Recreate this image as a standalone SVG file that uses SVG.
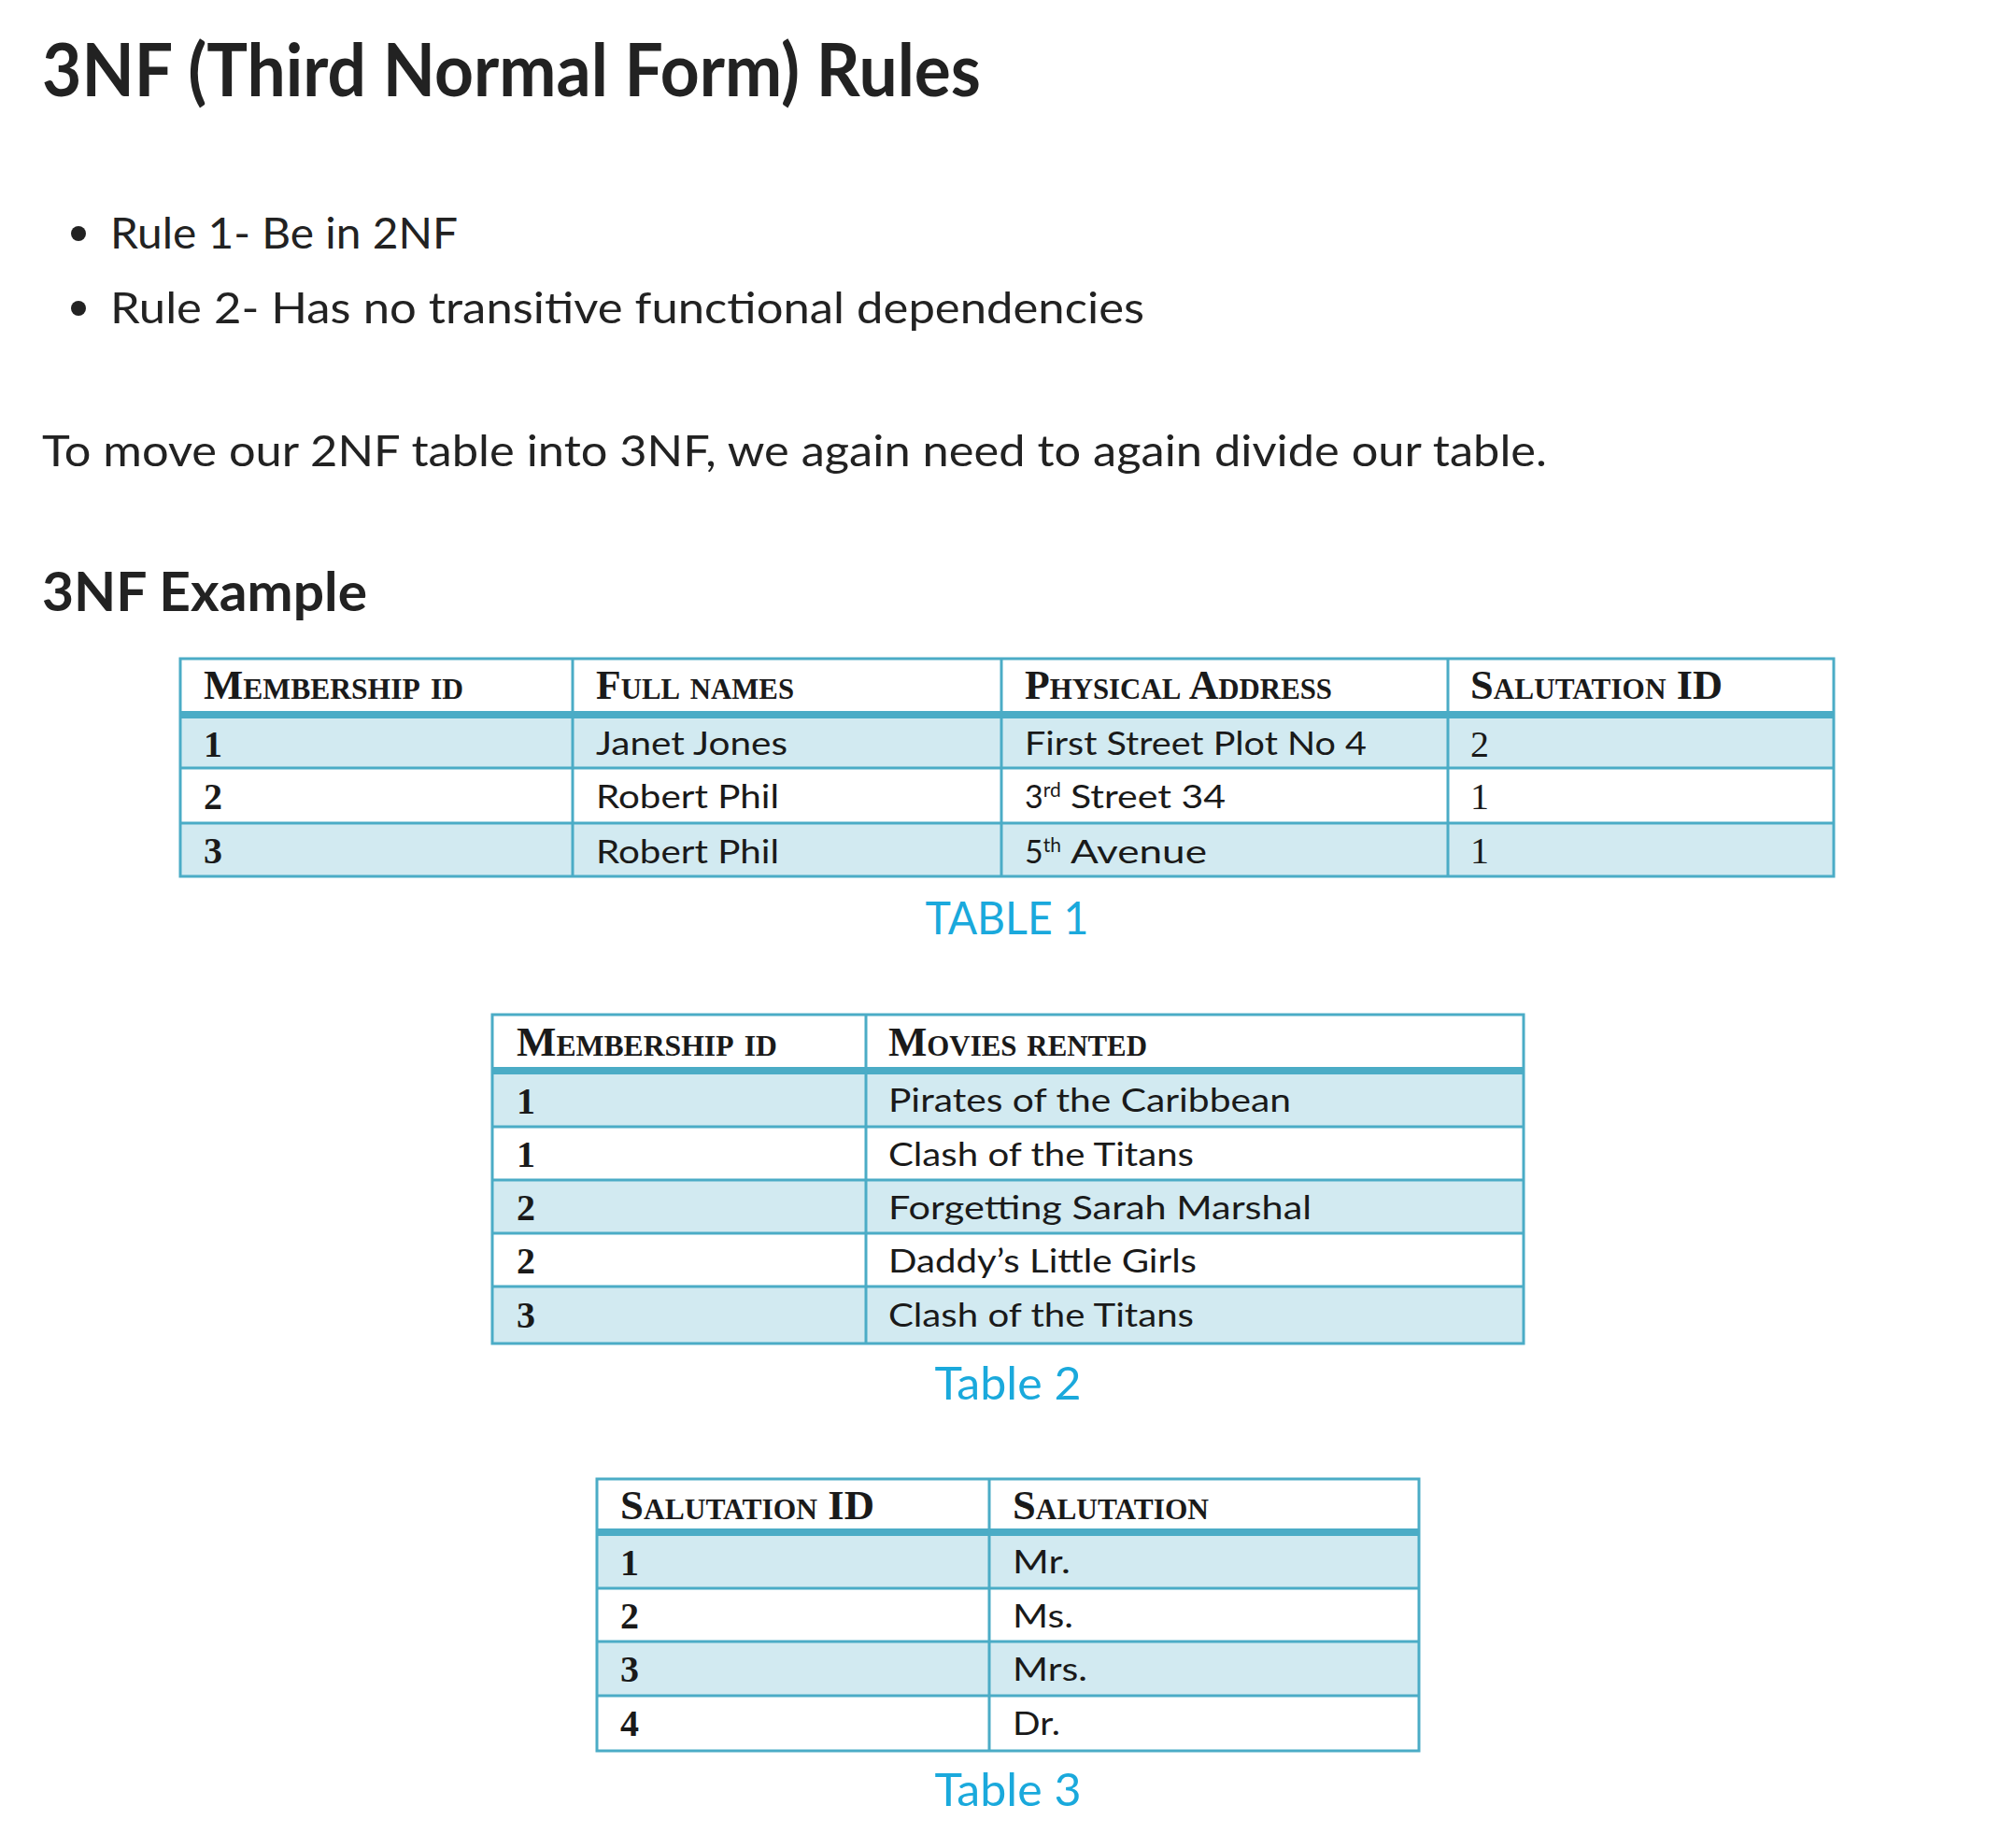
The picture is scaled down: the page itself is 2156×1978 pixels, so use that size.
<svg xmlns="http://www.w3.org/2000/svg" width="2156" height="1978" viewBox="0 0 2156 1978">
<style>
.body{font-family:Lato,"Source Sans Pro","Liberation Sans",sans-serif;fill:#222222}
.h1{font-size:78px;font-weight:700}
.h2{font-size:58px;font-weight:700}
.p{font-size:47px}
.cap{font-family:Lato,"Liberation Sans",sans-serif;font-size:49px;fill:#1aa9dc;text-anchor:middle}
.hd{font-family:"Liberation Serif","DejaVu Serif",serif;font-size:44px;font-weight:700;font-variant:small-caps;fill:#1a1a1a}
.num{font-family:"Liberation Serif","DejaVu Serif",serif;font-size:40px;font-weight:700;fill:#1a1a1a}
.numr{font-family:"Liberation Serif","DejaVu Serif",serif;font-size:40px;fill:#1a1a1a}
.cell{font-family:Lato,"Liberation Sans",sans-serif;font-size:34px;fill:#1a1a1a}
.sup{font-size:21px}
.blue{fill:#d2eaf1}
.white{fill:#ffffff}
.ln{stroke:#4bacc6;stroke-width:3;fill:none}
.band{fill:#4bacc6}
</style>
<rect width="2156" height="1978" fill="#ffffff"/>

<g id="text-intro" class="body">
<text class="h1" x="45" y="103" textLength="1005" lengthAdjust="spacingAndGlyphs">3NF (Third Normal Form) Rules</text>
<circle cx="84" cy="250" r="8" fill="#222222"/>
<text class="p" x="118" y="266" textLength="372" lengthAdjust="spacingAndGlyphs">Rule 1- Be in 2NF</text>
<circle cx="84" cy="330" r="8" fill="#222222"/>
<text class="p" x="118" y="346" textLength="1107" lengthAdjust="spacingAndGlyphs">Rule 2- Has no transitive functional dependencies</text>
<text class="p" x="45" y="499" textLength="1611" lengthAdjust="spacingAndGlyphs">To move our 2NF table into 3NF, we again need to again divide our table.</text>
<text class="h2" x="45" y="654" textLength="348" lengthAdjust="spacingAndGlyphs">3NF Example</text>
</g>

<g id="table1">
<rect class="white" x="193" y="705" width="1770" height="57"/>
<rect class="blue" x="193" y="769" width="1770" height="53"/>
<rect class="white" x="193" y="822" width="1770" height="59"/>
<rect class="blue" x="193" y="881" width="1770" height="57"/>
<rect class="band" x="193" y="761" width="1770" height="8"/>
<line class="ln" x1="193" y1="822" x2="1963" y2="822"/>
<line class="ln" x1="193" y1="881" x2="1963" y2="881"/>
<line class="ln" x1="613" y1="705" x2="613" y2="938"/>
<line class="ln" x1="1072" y1="705" x2="1072" y2="938"/>
<line class="ln" x1="1550" y1="705" x2="1550" y2="938"/>
<rect class="ln" x="193" y="705" width="1770" height="233"/>
<text class="hd" x="218" y="748" textLength="278" lengthAdjust="spacingAndGlyphs">Membership  id</text>
<text class="hd" x="638" y="748" textLength="212" lengthAdjust="spacingAndGlyphs">Full names</text>
<text class="hd" x="1097" y="748" textLength="329" lengthAdjust="spacingAndGlyphs">Physical Address</text>
<text class="hd" x="1574" y="748" textLength="270" lengthAdjust="spacingAndGlyphs">Salutation  ID</text>
<text class="num" x="218" y="810">1</text>
<text class="num" x="218" y="866">2</text>
<text class="num" x="218" y="924">3</text>
<text class="cell" x="638" y="808" textLength="205" lengthAdjust="spacingAndGlyphs">Janet Jones</text>
<text class="cell" x="638" y="865" textLength="196" lengthAdjust="spacingAndGlyphs">Robert Phil</text>
<text class="cell" x="638" y="924" textLength="196" lengthAdjust="spacingAndGlyphs">Robert Phil</text>
<text class="cell" x="1097" y="808" textLength="366" lengthAdjust="spacingAndGlyphs">First Street Plot No 4</text>
<text class="cell" x="1097" y="865">3<tspan class="sup" dy="-12">rd</tspan><tspan x="1146" dy="12" textLength="166" lengthAdjust="spacingAndGlyphs">Street 34</tspan></text>
<text class="cell" x="1097" y="924">5<tspan class="sup" dy="-12">th</tspan><tspan x="1146" dy="12" textLength="146" lengthAdjust="spacingAndGlyphs">Avenue</tspan></text>
<text class="numr" x="1574" y="810">2</text>
<text class="numr" x="1574" y="866">1</text>
<text class="numr" x="1574" y="924">1</text>
<text class="cap" x="1078" y="1000" textLength="175" lengthAdjust="spacingAndGlyphs">TABLE 1</text>
</g>

<g id="table2">
<rect class="white" x="527" y="1086" width="1104" height="57"/>
<rect class="blue" x="527" y="1150" width="1104" height="56"/>
<rect class="white" x="527" y="1206" width="1104" height="57"/>
<rect class="blue" x="527" y="1263" width="1104" height="57"/>
<rect class="white" x="527" y="1320" width="1104" height="57"/>
<rect class="blue" x="527" y="1377" width="1104" height="61"/>
<rect class="band" x="527" y="1142" width="1104" height="8"/>
<line class="ln" x1="527" y1="1206" x2="1631" y2="1206"/>
<line class="ln" x1="527" y1="1263" x2="1631" y2="1263"/>
<line class="ln" x1="527" y1="1320" x2="1631" y2="1320"/>
<line class="ln" x1="527" y1="1377" x2="1631" y2="1377"/>
<line class="ln" x1="927" y1="1086" x2="927" y2="1438"/>
<rect class="ln" x="527" y="1086" width="1104" height="352"/>
<text class="hd" x="553" y="1130" textLength="279" lengthAdjust="spacingAndGlyphs">Membership  id</text>
<text class="hd" x="951" y="1130" textLength="277" lengthAdjust="spacingAndGlyphs">Movies rented</text>
<text class="num" x="553" y="1192">1</text>
<text class="num" x="553" y="1249">1</text>
<text class="num" x="553" y="1306">2</text>
<text class="num" x="553" y="1363">2</text>
<text class="num" x="553" y="1421">3</text>
<text class="cell" x="951" y="1190" textLength="431" lengthAdjust="spacingAndGlyphs">Pirates of the Caribbean</text>
<text class="cell" x="951" y="1248" textLength="327" lengthAdjust="spacingAndGlyphs">Clash of the Titans</text>
<text class="cell" x="951" y="1305" textLength="453" lengthAdjust="spacingAndGlyphs">Forgetting Sarah Marshal</text>
<text class="cell" x="951" y="1362" textLength="330" lengthAdjust="spacingAndGlyphs">Daddy’s Little Girls</text>
<text class="cell" x="951" y="1420" textLength="327" lengthAdjust="spacingAndGlyphs">Clash of the Titans</text>
<text class="cap" x="1079" y="1498" textLength="157" lengthAdjust="spacingAndGlyphs">Table 2</text>
</g>

<g id="table3">
<rect class="white" x="639" y="1583" width="880" height="54"/>
<rect class="blue" x="639" y="1644" width="880" height="56"/>
<rect class="white" x="639" y="1700" width="880" height="57"/>
<rect class="blue" x="639" y="1757" width="880" height="58"/>
<rect class="white" x="639" y="1815" width="880" height="59"/>
<rect class="band" x="639" y="1636" width="880" height="8"/>
<line class="ln" x1="639" y1="1700" x2="1519" y2="1700"/>
<line class="ln" x1="639" y1="1757" x2="1519" y2="1757"/>
<line class="ln" x1="639" y1="1815" x2="1519" y2="1815"/>
<line class="ln" x1="1059" y1="1583" x2="1059" y2="1874"/>
<rect class="ln" x="639" y="1583" width="880" height="291"/>
<text class="hd" x="664" y="1626" textLength="272" lengthAdjust="spacingAndGlyphs">Salutation  ID</text>
<text class="hd" x="1084" y="1626" textLength="210" lengthAdjust="spacingAndGlyphs">Salutation</text>
<text class="num" x="664" y="1686">1</text>
<text class="num" x="664" y="1743">2</text>
<text class="num" x="664" y="1800">3</text>
<text class="num" x="664" y="1858">4</text>
<text class="cell" x="1084" y="1684" textLength="62" lengthAdjust="spacingAndGlyphs">Mr.</text>
<text class="cell" x="1084" y="1742" textLength="65" lengthAdjust="spacingAndGlyphs">Ms.</text>
<text class="cell" x="1084" y="1799" textLength="80" lengthAdjust="spacingAndGlyphs">Mrs.</text>
<text class="cell" x="1084" y="1857" textLength="51" lengthAdjust="spacingAndGlyphs">Dr.</text>
<text class="cap" x="1079" y="1933" textLength="157" lengthAdjust="spacingAndGlyphs">Table 3</text>
</g>
</svg>
